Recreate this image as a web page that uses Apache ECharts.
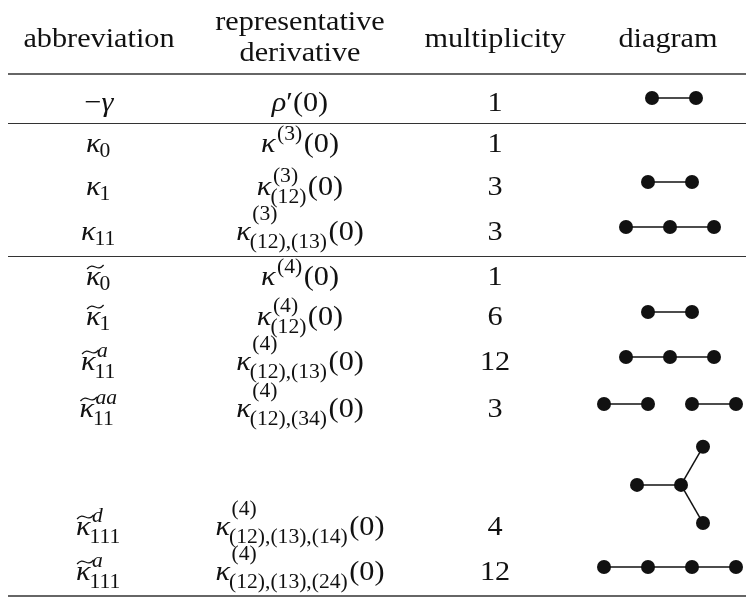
<!DOCTYPE html>
<html><head><meta charset="utf-8">
<script src="https://cdn.jsdelivr.net/npm/echarts@6/dist/echarts.min.js"></script>
<style>html,body{margin:0;padding:0;background:#fff}#c{width:746px;height:599px}</style>
</head><body><div id="c"></div>
<script>
// ---------------- data ----------------
const headers = ['abbreviation', 'representative\nderivative', 'multiplicity', 'diagram'];
const abbreviations = ['−γ', 'κ_{0}', 'κ_{1}', 'κ_{11}', '~κ_{0}', '~κ_{1}', '~κ^{a}_{11}', '~κ^{aa}_{11}', '~κ^{d}_{111}', '~κ^{a}_{111}'];
const derivatives = ['ρ′(0)', 'κ^{(3)}(0)', 'κ^{(3)}_{(12)}(0)', 'κ^{(3)}_{(12),(13)}(0)',
  'κ^{(4)}(0)', 'κ^{(4)}_{(12)}(0)', 'κ^{(4)}_{(12),(13)}(0)', 'κ^{(4)}_{(12),(34)}(0)',
  'κ^{(4)}_{(12),(13),(14)}(0)', 'κ^{(4)}_{(12),(13),(24)}(0)'];
const multiplicities = [1, 1, 3, 3, 1, 6, 12, 3, 4, 12];
// diagram graphs: shape, number of nodes, edges
const diagramShape = ['chain', 'none', 'chain', 'chain', 'none', 'chain', 'chain', 'chain', 'star', 'chain'];
const diagramNodes = [2, 0, 2, 3, 0, 2, 3, 4, 4, 4];
const diagramEdges = [[[0,1]], [], [[0,1]], [[0,1],[1,2]], [], [[0,1]], [[0,1],[1,2]], [[0,1],[2,3]], [[0,1],[0,2],[0,3]], [[0,1],[1,2],[2,3]]];
const rowGroup = [0, 1, 1, 1, 2, 2, 2, 2, 2, 2];

// ---------------- layout / style ----------------
const W = 746, H = 599;
const FAMILY = '"Liberation Serif"';
const F = 28, S = 20, STRETCH = 1.08;
const INK = '#111';
const COL_X = [99, 300, 495, 670];
const HEAD_X = [99, 300, 495, 668];
const HEAD_BASE = 47, HEAD_TWO = [30, 61];
const ROW_BASE = [111, 152, 195, 240, 285, 325, 370, 417, 535, 580];
const RULES = [{y: 74, w: 1.6}, {y: 123, w: 1.2}, {y: 256, w: 1.2}, {y: 596, w: 1.6}];
const RULE_X = [8, 746];
const GROUP_DX = [4, 0, 0];
const LEG = 44, NODE = 14;

const ctx = document.createElement('canvas').getContext('2d');
function fontStr(size, it) { return (it ? 'italic ' : '') + size + 'px ' + FAMILY; }
function measure(t, size, it) { ctx.font = fontStr(size, it); return ctx.measureText(t).width * STRETCH; }
const offCache = {};
function mid2base(size, it) {
  const k = size + '|' + it;
  if (offCache[k] == null) {
    ctx.font = fontStr(size, it);
    ctx.textBaseline = 'alphabetic';
    const a1 = ctx.measureText('H').actualBoundingBoxAscent;
    ctx.textBaseline = 'middle';
    const a2 = ctx.measureText('H').actualBoundingBoxAscent;
    ctx.textBaseline = 'alphabetic';
    offCache[k] = a1 - a2;
  }
  return offCache[k];
}
function isItalic(ch) { return /[A-Za-z\u03b1-\u03c9]/.test(ch); }

function runPieces(str, x0, base, size, out) {
  let x = x0, seg = '', segIt = null;
  const flush = () => { if (seg) { out.push({t: seg, x, base, size, it: segIt}); x += measure(seg, size, segIt); } seg = ''; };
  for (const ch of str) {
    const it = isItalic(ch);
    if (segIt !== null && it !== segIt) flush();
    segIt = it; seg += ch;
  }
  flush();
  return x - x0;
}

function parseMath(s) {
  const atoms = []; let i = 0;
  while (i < s.length) {
    let tilde = false;
    if (s[i] === '~') { tilde = true; i++; }
    const atom = {base: s[i++], tilde, sup: null, sub: null};
    while (s[i] === '^' || s[i] === '_') {
      const kind = s[i]; i += 2;
      const j = s.indexOf('}', i);
      const body = s.slice(i, j); i = j + 1;
      if (kind === '^') atom.sup = body; else atom.sub = body;
    }
    atoms.push(atom);
  }
  return atoms;
}

function layoutMath(s) {
  const atoms = parseMath(s);
  const pieces = [], tildes = [];
  let x = 0;
  atoms.forEach(a => {
    const it = isItalic(a.base);
    const w = measure(a.base, F, it);
    pieces.push({t: a.base, x, base: 0, size: F, it});
    if (a.tilde) tildes.push({x0: x + 1, x1: x + w + 3, y: -18});
    let adv = w;
    if (a.sup || a.sub) {
      const long = a.sup && a.sub && a.sub.indexOf(',') >= 0;
      const supShift = a.sub ? (long ? 0.72 * F : 0.45 * F) : 0.42 * F;
      const subShift = a.sup ? (long ? 0.3 * F : 0.27 * F) : 0.17 * F;
      const sx = x + w;
      let sw = 0;
      if (a.sup) sw = Math.max(sw, runPieces(a.sup, sx + (it ? 1.5 : 0), -supShift, S, pieces) + (it ? 1.5 : 0));
      if (a.sub) sw = Math.max(sw, runPieces(a.sub, sx - (it ? 1 : 0), subShift, S, pieces) - (it ? 1 : 0));
      adv = w + sw + 1.5;
    }
    x += adv;
  });
  pieces.forEach(p => p.x -= x / 2);
  tildes.forEach(t => { t.x0 -= x / 2; t.x1 -= x / 2; });
  return {pieces, tildes};
}
function layoutRoman(s) {
  const w = measure(s, F, false);
  return {pieces: [{t: s, x: -w / 2, base: 0, size: F, it: false}], tildes: []};
}

// ---- cells ----
const cells = [], cellData = [];
function addCell(layout, cx, base) { cells.push(layout); cellData.push([cx, base, cells.length - 1]); }
headers.forEach((h, c) => {
  const lines = h.split('\n');
  if (lines.length === 1) addCell(layoutRoman(lines[0]), HEAD_X[c], HEAD_BASE);
  else lines.forEach((ln, k) => addCell(layoutRoman(ln), HEAD_X[c], HEAD_TWO[k]));
});
abbreviations.forEach((s, r) => addCell(layoutMath(s), COL_X[0], ROW_BASE[r]));
derivatives.forEach((s, r) => addCell(layoutMath(s), COL_X[1], ROW_BASE[r]));
multiplicities.forEach((m, r) => addCell(layoutRoman(String(m)), COL_X[2], ROW_BASE[r]));

// ---- diagrams ----
const nodeData = [], edgeData = [];
diagramShape.forEach((shape, r) => {
  if (shape === 'none') return;
  let pts = [];
  if (shape === 'chain') {
    for (let i = 0; i < diagramNodes[r]; i++) pts.push([i * LEG, 0]);
  } else {
    pts.push([0, 0]);
    [180, -60, 60].forEach(a => pts.push([LEG * Math.cos(a * Math.PI / 180), LEG * Math.sin(a * Math.PI / 180)]));
  }
  const xs = pts.map(p => p[0]), ys = pts.map(p => p[1]);
  const mx = (Math.min(...xs) + Math.max(...xs)) / 2;
  const cx = COL_X[3] + GROUP_DX[rowGroup[r]];
  const bottom = shape === 'star' ? ROW_BASE[r] - 12 : ROW_BASE[r] - 13;
  const maxY = Math.max(...ys);
  const P = pts.map(p => [cx + p[0] - mx, bottom + p[1] - maxY]);
  P.forEach(p => nodeData.push(p));
  diagramEdges[r].forEach(e => edgeData.push({coords: [P[e[0]], P[e[1]]]}));
});

function renderCell(params, api) {
  const cell = cells[api.value(2)];
  const p = api.coord([api.value(0), api.value(1)]);
  const children = cell.pieces.map(pc => ({
    type: 'text', x: p[0] + pc.x, y: p[1] + pc.base - mid2base(pc.size, pc.it), scaleX: STRETCH, scaleY: 1,
    style: {text: pc.t, font: fontStr(pc.size, pc.it), fill: INK, align: 'left', textAlign: 'left',
      verticalAlign: 'middle', textVerticalAlign: 'middle'}
  }));
  cell.tildes.forEach(td => {
    const x0 = p[0] + td.x0, x1 = p[0] + td.x1, cy = p[1] + td.y, w = x1 - x0;
    children.push({type: 'bezierCurve',
      shape: {x1: x0, y1: cy + 2, x2: x1, y2: cy - 2, cpx1: x0 + 0.4 * w, cpy1: cy - 6, cpx2: x0 + 0.6 * w, cpy2: cy + 6},
      style: {stroke: INK, lineWidth: 1.3, fill: null}});
  });
  return {type: 'group', children};
}

const chart = echarts.init(document.getElementById('c'), null, {renderer: 'canvas'});
chart.setOption({
  animation: false,
  backgroundColor: '#fff',
  grid: {left: 0, right: 0, top: 0, bottom: 0},
  xAxis: {type: 'value', min: 0, max: W, show: false},
  yAxis: {type: 'value', min: 0, max: H, inverse: true, show: false},
  series: [
    {type: 'custom', coordinateSystem: 'cartesian2d', renderItem: renderCell, data: cellData, clip: false, silent: true, z: 5},
    ...RULES.map(rl => ({type: 'lines', coordinateSystem: 'cartesian2d', silent: true, z: 2,
      lineStyle: {color: '#333', width: rl.w, opacity: 1},
      data: [{coords: [[RULE_X[0], rl.y], [RULE_X[1], rl.y]]}]})),
    {type: 'lines', coordinateSystem: 'cartesian2d', silent: true, z: 3,
      lineStyle: {color: INK, width: 1.5, opacity: 1}, data: edgeData},
    {type: 'scatter', silent: true, z: 4, symbol: 'circle', symbolSize: NODE,
      itemStyle: {color: INK, opacity: 1}, data: nodeData}
  ]
});
</script></body></html>
